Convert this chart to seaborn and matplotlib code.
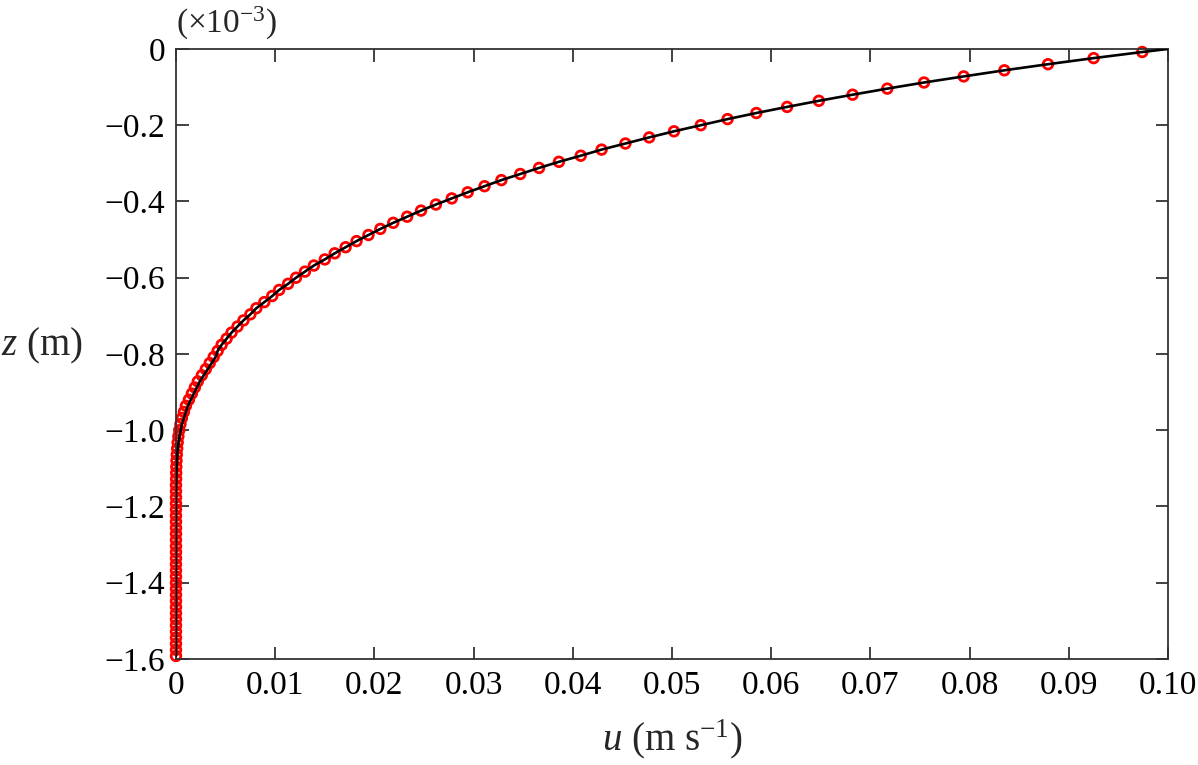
import numpy as np
import pandas as pd
import matplotlib
matplotlib.use('Agg')
import matplotlib.pyplot as plt
import seaborn as sns

# depth of the markers (x 1e-3 m)
z_pts = [-0.008, -0.024, -0.040, -0.056, -0.072, -0.088, -0.104, -0.120, -0.136, -0.152,
         -0.168, -0.184, -0.200, -0.216, -0.232, -0.248, -0.264, -0.280, -0.296, -0.312,
         -0.328, -0.344, -0.360, -0.376, -0.392, -0.408, -0.424, -0.440, -0.456, -0.472,
         -0.488, -0.504, -0.520, -0.536, -0.552, -0.568, -0.584, -0.600, -0.616, -0.632,
         -0.648, -0.664, -0.680, -0.696, -0.712, -0.728, -0.744, -0.760, -0.776, -0.792,
         -0.808, -0.824, -0.840, -0.856, -0.872, -0.888, -0.904, -0.920, -0.936, -0.952,
         -0.968, -0.984, -1.000, -1.016, -1.032, -1.048, -1.064, -1.080, -1.096, -1.112,
         -1.128, -1.144, -1.160, -1.176, -1.192, -1.208, -1.224, -1.240, -1.256, -1.272,
         -1.288, -1.304, -1.320, -1.336, -1.352, -1.368, -1.384, -1.400, -1.416, -1.432,
         -1.448, -1.464, -1.480, -1.496, -1.512, -1.528, -1.544, -1.560, -1.576, -1.592]

# velocity at the markers (m/s)
u_pts = [0.0974, 0.0925, 0.0879, 0.0835, 0.0794, 0.0754, 0.0717, 0.0682, 0.0648, 0.0616,
         0.0585, 0.0556, 0.0529, 0.0502, 0.0477, 0.0453, 0.0429, 0.0408, 0.0386, 0.0366,
         0.0347, 0.0328, 0.0311, 0.0294, 0.0278, 0.0262, 0.0247, 0.0233, 0.0219, 0.0206,
         0.0194, 0.0182, 0.0171, 0.0160, 0.0150, 0.0139, 0.0130, 0.0121, 0.0113, 0.0104,
         0.0097, 0.0089, 0.0081, 0.0075, 0.0068, 0.0062, 0.0056, 0.0051, 0.0046, 0.0042,
         0.0038, 0.0034, 0.0030, 0.0026, 0.0022, 0.0019, 0.0016, 0.0013, 0.0010, 0.0008,
         0.0006, 0.00045, 0.00033, 0.00024, 0.00017, 0.00012, 0.00008, 0.00005, 0.00003, 0.00002,
         0.00001, 0, 0, 0, 0, 0, 0, 0, 0, 0,
         0, 0, 0, 0, 0, 0, 0, 0, 0, 0,
         0, 0, 0, 0, 0, 0, 0, 0, 0, 0]

# solid curve (surface point first)
z_line = [0.0] + z_pts
u_line = [0.1,
          0.0974, 0.0925, 0.0879, 0.0835, 0.0794, 0.0754, 0.0717, 0.0682, 0.0648, 0.0616,
          0.0585, 0.0556, 0.0529, 0.0502, 0.0477, 0.0453, 0.0429, 0.0408, 0.0386, 0.0366,
          0.0347, 0.0328, 0.0311, 0.0294, 0.0278, 0.0262, 0.0247, 0.0233, 0.0219, 0.0206,
          0.0194, 0.0182, 0.0171, 0.0160, 0.0150, 0.0139, 0.0130, 0.0121, 0.0113, 0.0104,
          0.0097, 0.0089, 0.0081, 0.0075, 0.0068, 0.0062, 0.0056, 0.0051, 0.0046, 0.0042,
          0.0040, 0.0036, 0.0032, 0.0028, 0.0024, 0.0021, 0.0018, 0.0015, 0.0012, 0.0010,
          0.0008, 0.0006, 0.00047, 0.00036, 0.00027, 0.0002, 0.00014, 0.0001, 0.00007, 0.00005,
          0.00003, 0.00002, 0.00001, 0, 0, 0, 0, 0, 0, 0,
          0, 0, 0, 0, 0, 0, 0, 0, 0, 0,
          0, 0, 0, 0, 0, 0, 0, 0, 0, 0]

x_ticks = [0, 0.01, 0.02, 0.03, 0.04, 0.05, 0.06, 0.07, 0.08, 0.09, 0.10]
x_labels = ['0', '0.01', '0.02', '0.03', '0.04', '0.05', '0.06', '0.07', '0.08', '0.09', '0.10']
y_ticks = [0, -0.2, -0.4, -0.6, -0.8, -1.0, -1.2, -1.4, -1.6]
y_labels = ['0', '\u22120.2', '\u22120.4', '\u22120.6', '\u22120.8', '\u22121.0', '\u22121.2', '\u22121.4', '\u22121.6']

sns.set_style('ticks')
plt.rcParams['font.family'] = ['Liberation Serif', 'DejaVu Serif']
plt.rcParams['mathtext.fontset'] = 'custom'
plt.rcParams['mathtext.rm'] = 'Liberation Serif'
plt.rcParams['mathtext.it'] = 'Liberation Serif:italic'

pts = pd.DataFrame({'u': u_pts, 'z': z_pts})
line = pd.DataFrame({'u': u_line, 'z': z_line})

fig = plt.figure(figsize=(11.98, 7.65), dpi=100)
ax = fig.add_axes([0.1469, 0.1386, 0.8281, 0.7974])

sns.scatterplot(data=pts, x='u', y='z', ax=ax, marker='o', s=48,
                facecolor='none', edgecolor='#ff0000', linewidth=2.0,
                clip_on=False, zorder=2)
sns.lineplot(data=line, x='u', y='z', ax=ax, sort=False, estimator=None,
             color='black', linewidth=1.9, zorder=3)

ax.set_xlim(0, 0.10)
ax.set_ylim(-1.6, 0)
ax.set_xticks(x_ticks)
ax.set_xticklabels(x_labels)
ax.set_yticks(y_ticks)
ax.set_yticklabels(y_labels)
ax.tick_params(direction='in', length=9, width=1.3, colors='#333333',
               labelcolor='black', labelsize=24, top=True, right=True, pad=8)
for s in ax.spines.values():
    s.set_linewidth(1.3)
    s.set_color('#333333')

ax.set_xlabel(r'$u$ (m s$^{-1}$)', fontsize=28, labelpad=12)
ax.set_ylabel(r'$z$ (m)', fontsize=28, rotation=0, labelpad=10)
ax.yaxis.set_label_coords(-0.135, 0.48)
ax.text(0.0, 1.012, r'(×10$^{-3}$)', transform=ax.transAxes, fontsize=24,
        ha='left', va='bottom')

fig.savefig('out.png', dpi=100)
